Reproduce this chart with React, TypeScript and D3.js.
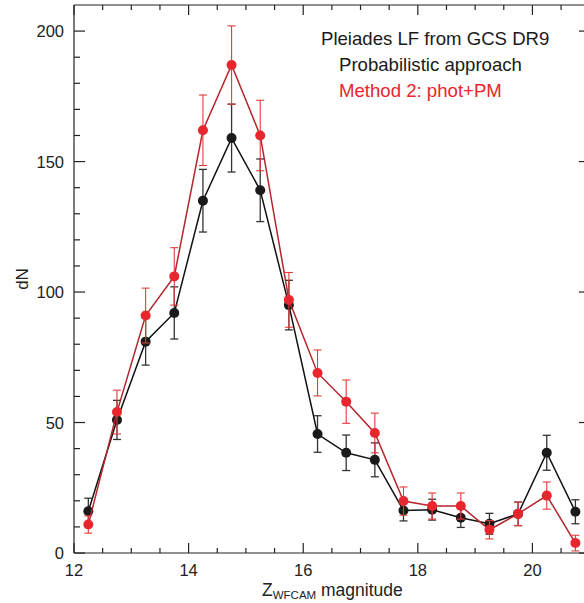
import React from 'react';
import { scaleLinear, line, range } from 'd3';

// bin centres (Z magnitude)
const mags = [12.25, 12.75, 13.25, 13.75, 14.25, 14.75, 15.25, 15.75, 16.25, 16.75, 17.25, 17.75, 18.25, 18.75, 19.25, 19.75, 20.25, 20.75];

// Probabilistic approach (black)
const probN = [16, 51, 81, 92, 135, 159, 139, 95, 45.6, 38.4, 35.7, 16.3, 16.6, 13.5, 11.2, 15, 38.4, 15.8];
const probErr = [5, 7.5, 9, 10, 12, 13, 12, 9.5, 7, 6.8, 6.5, 4, 4, 3.7, 4, 4.5, 6.7, 4.6];

// Method 2: phot+PM (red)
const pmN = [10.9, 54, 91, 106, 162, 187, 160, 97, 69, 58, 46, 19.9, 18, 18, 8.9, 15, 22, 3.8];
const pmErr = [3.3, 8.4, 10.5, 11, 13.5, 15, 13.5, 10.5, 8.8, 8.3, 7.6, 5.4, 5, 5, 3.5, 4.5, 5.2, 3];

const xTicks = [12, 14, 16, 18, 20];
const yTicks = [0, 50, 100, 150, 200];

const W = 584;
const H = 603;
const L = 74, R = 584, T = 5, B = 553;
const font = '"Liberation Sans", Arial, Helvetica, sans-serif';

export default function App() {
  const x = scaleLinear().domain([12, 20.9]).range([L, R]);
  const y = scaleLinear().domain([0, 210]).range([B, T]);
  const xMinor = range(12, 20.9, 0.5).filter(v => !xTicks.includes(v));
  const yMinor = range(0, 210, 10).filter(v => !yTicks.includes(v));

  const path = line<number>().x((_, i) => x(mags[i])).y(d => y(d));

  const series = [
    { vals: probN, errs: probErr, lineCol: '#111', dot: '#1a1a1a', errCol: '#333', errW: 1.3 },
    { vals: pmN, errs: pmErr, lineCol: '#b3262c', dot: '#e8262d', errCol: '#e83a3a', errW: 1.1 },
  ];

  return (
    <svg width={W} height={H} style={{ position: 'absolute', left: 0, top: 0, background: '#fff' }}>
      <g stroke="#222" strokeWidth={1.2}>
        <line x1={L} x2={R} y1={B} y2={B} />
        <line x1={L} x2={R} y1={T} y2={T} />
        <line x1={L} x2={L} y1={T} y2={B} />
        {xTicks.map(v => (
          <g key={'xt' + v}>
            <line x1={x(v)} x2={x(v)} y1={B} y2={B - 10} />
            <line x1={x(v)} x2={x(v)} y1={T} y2={T + 10} />
          </g>
        ))}
        {xMinor.map(v => (
          <g key={'xm' + v}>
            <line x1={x(v)} x2={x(v)} y1={B} y2={B - 5} />
            <line x1={x(v)} x2={x(v)} y1={T} y2={T + 5} />
          </g>
        ))}
        {yTicks.map(v => (
          <g key={'yt' + v}>
            <line x1={L} x2={L + 11} y1={y(v)} y2={y(v)} />
            <line x1={R + 1} x2={R - 5} y1={y(v)} y2={y(v)} />
          </g>
        ))}
        {yMinor.map(v => (
          <g key={'ym' + v}>
            <line x1={L} x2={L + 6} y1={y(v)} y2={y(v)} />
          </g>
        ))}
      </g>
      <g fontFamily={font} fontSize={16.5} fill="#222">
        {xTicks.map(v => (
          <text key={'xl' + v} x={x(v)} y={576} textAnchor="middle">{v}</text>
        ))}
        {yTicks.map(v => (
          <text key={'yl' + v} x={64} y={y(v) + 6} textAnchor="end">{v}</text>
        ))}
        <text x={262} y={596} fontSize={17.5}>
          Z<tspan fontSize={11.5} dy={3}>WFCAM</tspan>
          <tspan dy={-3}> magnitude</tspan>
        </text>
        <text transform={`translate(28,${(T + B) / 2}) rotate(-90)`} textAnchor="middle" fontSize={17}>dN</text>
      </g>
      {series.map((s, k) => (
        <g key={'s' + k}>
          <path d={path(s.vals) || ''} fill="none" stroke={s.lineCol} strokeWidth={1.5} />
          {s.vals.map((v, i) => (
            <g key={i} stroke={s.errCol} strokeWidth={s.errW}>
              <line x1={x(mags[i])} x2={x(mags[i])} y1={y(v - s.errs[i])} y2={y(v + s.errs[i])} />
              <line x1={x(mags[i]) - 4} x2={x(mags[i]) + 4} y1={y(v - s.errs[i])} y2={y(v - s.errs[i])} />
              <line x1={x(mags[i]) - 4} x2={x(mags[i]) + 4} y1={y(v + s.errs[i])} y2={y(v + s.errs[i])} />
            </g>
          ))}
          {s.vals.map((v, i) => (
            <circle key={'c' + i} cx={x(mags[i])} cy={y(v)} r={5} fill={s.dot} />
          ))}
        </g>
      ))}
      <g fontFamily={font} fontSize={18.6}>
        <text x={321} y={45} fill="#1a1a1a">Pleiades LF from GCS DR9</text>
        <text x={339} y={71} fill="#1a1a1a">Probabilistic approach</text>
        <text x={339} y={97} fill="#e8262d">Method 2: phot+PM</text>
      </g>
    </svg>
  );
}
